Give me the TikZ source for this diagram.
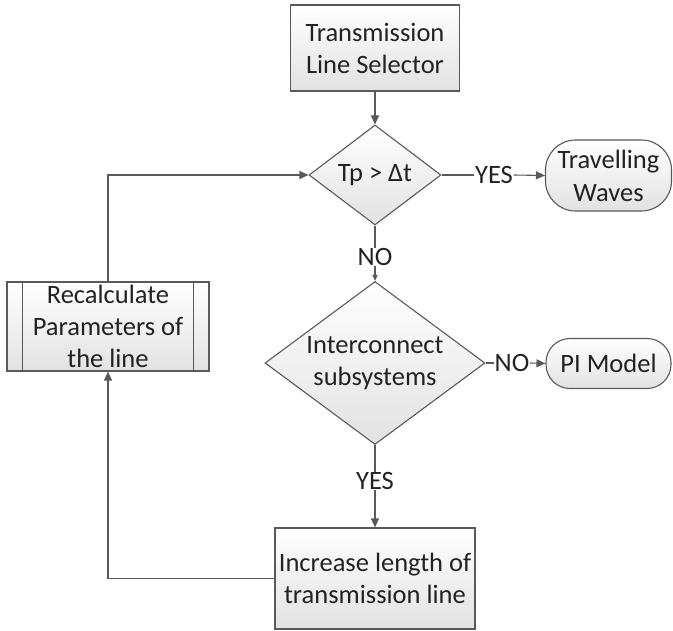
\documentclass[tikz,border=0pt]{standalone}
\usepackage{fontspec}
\setmainfont{Carlito}
\usetikzlibrary{shapes.geometric,arrows.meta}
\definecolor{edge}{HTML}{595959}
\definecolor{ink}{HTML}{222222}
\definecolor{shadelo}{HTML}{E2E2E2}
\tikzset{
  every node/.style={font=\fontsize{26.5}{32}\selectfont, text=ink, align=center},
  boxfill/.style={draw=edge, line width=1.1pt, top color=white, bottom color=shadelo},
  procbox/.style={boxfill, rectangle, inner sep=0pt},
  decision/.style={boxfill, diamond, inner sep=0pt},
  terminal/.style={boxfill, rectangle, inner sep=0pt},
  edgelabel/.style={inner sep=0.5pt},
  conn/.style={draw=edge, line width=1.1pt},
  arrow/.style={conn, -{Triangle[length=9pt,width=8pt]}},
}
\begin{document}
\begin{tikzpicture}[x=1pt, y=-1pt]
\useasboundingbox (0,0) rectangle (673,631);

% process steps
\node[procbox, minimum width=169pt, minimum height=86pt] (sel) at (375,48)
  {Transmission\\Line Selector};
\node[procbox, minimum width=200pt, minimum height=101pt] (inc) at (375,578.5)
  {Increase length of\\transmission line};

% predefined process with side bars
\node[procbox, minimum width=202pt, minimum height=89pt] (recalc) at (108,326.5)
  {Recalculate\\Parameters of\\the line};
\draw[conn] ([xshift=16pt]recalc.north west) -- ([xshift=16pt]recalc.south west);
\draw[conn] ([xshift=-16pt]recalc.north east) -- ([xshift=-16pt]recalc.south east);

% decisions
\node[decision, shape aspect=1.32, minimum width=132pt, minimum height=100pt] (tp) at (375,175)
  {Tp > Δt};
\node[decision, shape aspect=1.35, minimum width=220pt, minimum height=163pt] (ic) at (375,363)
  {Interconnect\\subsystems};

% terminals
\node[terminal, rounded corners=30pt, minimum width=126pt, minimum height=71pt] (tw) at (608.5,175.5)
  {Travelling\\[1pt]Waves};
\node[terminal, rounded corners=24pt, minimum width=125pt, minimum height=50pt] (pi) at (608.5,363.5)
  {PI Model};

% branch labels
\node[edgelabel] (yes1) at (494,175) {YES};
\node[edgelabel] (no1) at (375,257) {NO};
\node[edgelabel] (no2) at (512,363) {NO};
\node[edgelabel] (yes2) at (375,481) {YES};

% loop corners
\coordinate (lt) at (108,175);
\coordinate (lb) at (108,578.5);

% connectors
\draw[arrow] (sel) -- (tp);
\draw[conn] (tp.east) -- (yes1.west);
\draw[arrow] (yes1.east) -- (tw.west);
\draw[conn] (tp.south) -- (no1.north);
\draw[draw=edge, line width=1.1pt, -{Triangle[length=6pt,width=5pt]}] (no1.south) -- (ic.north);
\draw[conn] (ic.east) -- (no2.west);
\draw[arrow] (no2.east) -- (pi.west);
\draw[conn] (ic.south) -- (yes2.north);
\draw[arrow] (yes2.south) -- (inc.north);
\draw[arrow] (inc.west) -- (lb) -- (recalc.south);
\draw[arrow] (recalc.north) -- (lt) -- (tp.west);
\end{tikzpicture}
\end{document}
